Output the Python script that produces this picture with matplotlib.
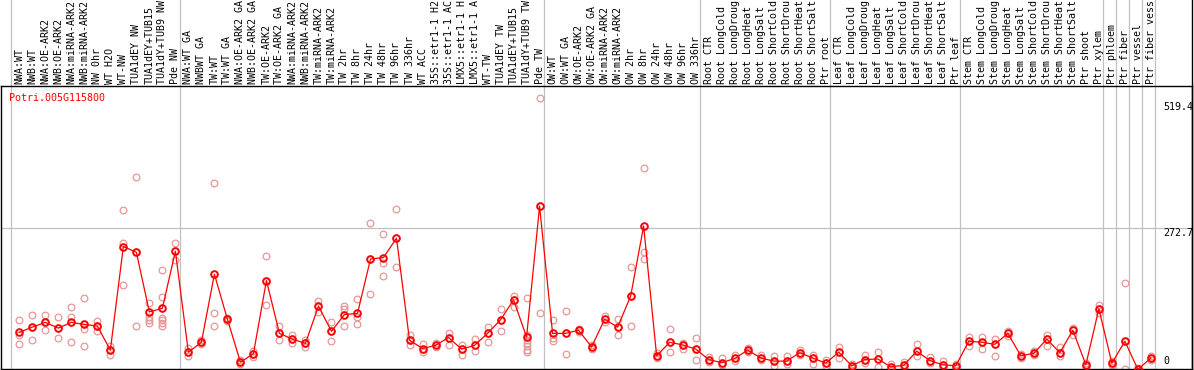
import matplotlib
matplotlib.use('Agg')
import matplotlib.pyplot as plt
from matplotlib.transforms import blended_transform_factory

gene = "Potri.005G115800"

labels = ["NWA:WT", "NWB:WT", "NWA:OE-ARK2", "NWB:OE-ARK2", "NWA:miRNA-ARK2", "NWB:miRNA-ARK2",
          "NW 0hr", "WT H2O", "WT-NW", "TUA1dEY NW", "TUA1dEY+TUB15", "TUA1dY+TUB9 NW", "Pde NW",
          "NWA:WT GA", "NWBWT GA", "TW:WT", "TW:WT GA", "NWA:OE-ARK2 GA", "NWB:OE-ARK2 GA",
          "TW:OE-ARK2", "TW:OE-ARK2 GA", "NWA:miRNA-ARK2", "NWB:miRNA-ARK2", "TW:miRNA-ARK2",
          "TW:miRNA-ARK2", "TW 2hr", "TW 8hr", "TW 24hr", "TW 48hr", "TW 96hr", "TW 336hr", "WT ACC",
          "35S::etr1-1 H2", "35S::etr1-1 AC", "LMX5::etr1-1 H", "LMX5::etr1-1 A", "WT-TW",
          "TUA1dEY TW", "TUA1dEY+TUB15", "TUA1dY+TUB9 TW", "Pde TW",
          "OW:WT", "OW:WT GA", "OW:OE-ARK2", "OW:OE-ARK2 GA", "OW:miRNA-ARK2", "OW:miRNA-ARK2",
          "OW 2hr", "OW 8hr", "OW 24hr", "OW 48hr", "OW 96hr", "OW 336hr",
          "Root CTR", "Root LongCold", "Root LongDroug", "Root LongHeat", "Root LongSalt",
          "Root ShortCold", "Root ShortDrou", "Root ShortHeat", "Root ShortSalt", "Ptr root",
          "Leaf CTR", "Leaf LongCold", "Leaf LongDroug", "Leaf LongHeat", "Leaf LongSalt",
          "Leaf ShortCold", "Leaf ShortDrou", "Leaf ShortHeat", "Leaf ShortSalt", "Ptr leaf",
          "Stem CTR", "Stem LongCold", "Stem LongDroug", "Stem LongHeat", "Stem LongSalt",
          "Stem ShortCold", "Stem ShortDrou", "Stem ShortHeat", "Stem ShortSalt", "Ptr shoot",
          "Ptr xylem", "Ptr phloem", "Ptr fiber", "Ptr vessel", "Ptr fiber vess"]

means = [73, 83, 92, 81, 92, 88, 85, 39, 237, 226, 112, 119, 228,
         35, 54, 184, 98, 16, 32, 172, 71, 60, 52, 123, 75, 107, 109, 213, 216, 253, 58, 42,
         48, 63, 41, 48, 71, 97, 135, 64, 314,
         71, 71, 77, 45, 98, 83, 142, 276, 28, 54, 49, 41,
         21, 15, 23, 39, 24, 18, 18, 34, 24, 14,
         35, 9, 21, 22, 7, 10, 37, 19, 11, 9,
         56, 54, 50, 71, 28, 33, 60, 34, 77, 11,
         118, 14, 56, 2, 24]

reps = [[96, 68, 51], [107, 83, 58], [107, 92, 77], [102, 81, 62], [121, 103, 54],
        [139, 80, 46], [94, 85, 76], [46, 39, 30], [306, 244, 163], [369, 226, 85],
        [130, 102, 97, 91], [192, 140, 100, 96, 91, 86], [243, 228, 212],
        [43, 35, 28], [50, 54, 58], [358, 109, 86], [100, 95, 98], [12, 16, 20],
        [38, 32, 25], [218, 172, 125], [85, 71, 58], [68, 60, 52], [59, 52, 45],
        [133, 123, 112], [92, 75, 56], [123, 118, 86], [137, 103, 88], [281, 213, 146],
        [260, 206, 180], [309, 253, 197], [67, 58, 48], [51, 42, 35], [53, 48, 44],
        [72, 63, 49], [48, 41, 29], [61, 48, 37], [84, 71, 54], [118, 97, 75],
        [142, 135, 121], [139, 68, 59, 53, 46, 40, 35], [521, 314, 109],
        [96, 62, 56], [114, 71, 32], [80, 77, 74], [49, 45, 41], [105, 98, 92],
        [98, 83, 67], [197, 142, 86], [388, 226, 214], [33, 28, 24], [79, 54, 35],
        [53, 49, 42], [62, 41, 20],
        [26, 21, 16], [24, 15, 11], [30, 23, 18], [43, 39, 35], [29, 24, 20],
        [27, 18, 8], [27, 18, 12], [39, 34, 30], [30, 24, 13], [14, 8, 20],
        [44, 35, 23], [12, 9, 5], [30, 21, 14], [35, 22, 6], [12, 7, 3],
        [16, 10, 5], [51, 37, 28], [26, 19, 14], [19, 11, 7], [12, 9, 5],
        [65, 56, 47], [65, 54, 41], [61, 50, 27], [76, 71, 66], [32, 28, 24],
        [37, 33, 29], [68, 60, 47], [45, 34, 27], [81, 77, 68], [14, 11, 7],
        [126, 118, 110], [18, 14, 11], [167, 56, 2], [5, 2, 0], [28, 24, 20]]

group_starts = [0, 13, 41, 53, 63, 73, 84, 85, 86, 87, 88]
ymax = 519.4
ymid = 272.7

mono = 'DejaVu Sans Mono'
fs = 7.2
W, H = 1194, 370

fig = plt.figure(figsize=(W / 100, H / 100), dpi=100)
ax = fig.add_axes([1 / W, 1 / H, 1191 / W, 283 / H])
ax.set_xlim(-1.407, 90.16)
ax.set_ylim(2.9, 543.8)
for s in ax.spines.values():
    s.set_linewidth(1.0)
    s.set_color('black')

# group separators run through the label area too
vt = blended_transform_factory(ax.transData, fig.transFigure)
for g in group_starts:
    ax.plot([g - 0.66, g - 0.66], [0, 1], transform=vt, color='#c0c0c0',
            lw=0.9, clip_on=False, zorder=0.5)
ax.plot([1192 / W, 1192 / W], [0, 1], transform=fig.transFigure, color='black', lw=1.0,
        clip_on=False)
ax.axhline(ymid, color='#c0c0c0', lw=0.9, zorder=0.5)

for j, r in enumerate(reps):
    ax.plot([j] * len(r), r, 'o', mfc='none', mec='#e89696', ms=4.8, mew=0.9,
            clip_on=False, zorder=2)
ax.plot(range(len(means)), means, '-', color='red', lw=0.9, clip_on=False, zorder=3)
ax.plot(range(len(means)), means, 'o', mfc='none', mec='red', ms=4.8, mew=1.4,
        clip_on=False, zorder=4)

ax.xaxis.tick_top()
ax.set_xticks(range(len(labels)))
ax.set_xticklabels(labels, rotation=90, family=mono, fontsize=fs)
ax.tick_params(axis='x', length=0, pad=1.5)
ax.set_yticks([])

yt = blended_transform_factory(ax.transAxes, ax.transData)
ax.annotate('519.4', (0.9757, ymax), xycoords=yt, xytext=(0, -2), textcoords='offset points',
            va='top', ha='left', family=mono, fontsize=fs, annotation_clip=False)
ax.text(0.9757, ymid, '272.7', transform=yt, va='top', ha='left', family=mono, fontsize=fs)
ax.annotate('0', (0.9757, 0), xycoords=yt, xytext=(0, 3), textcoords='offset points',
            va='bottom', ha='left', family=mono, fontsize=fs, annotation_clip=False)
ax.text(0.007, 0.975, gene, transform=ax.transAxes, va='top', ha='left',
        family=mono, fontsize=fs, color='red')

fig.savefig('out.png', dpi=100)
